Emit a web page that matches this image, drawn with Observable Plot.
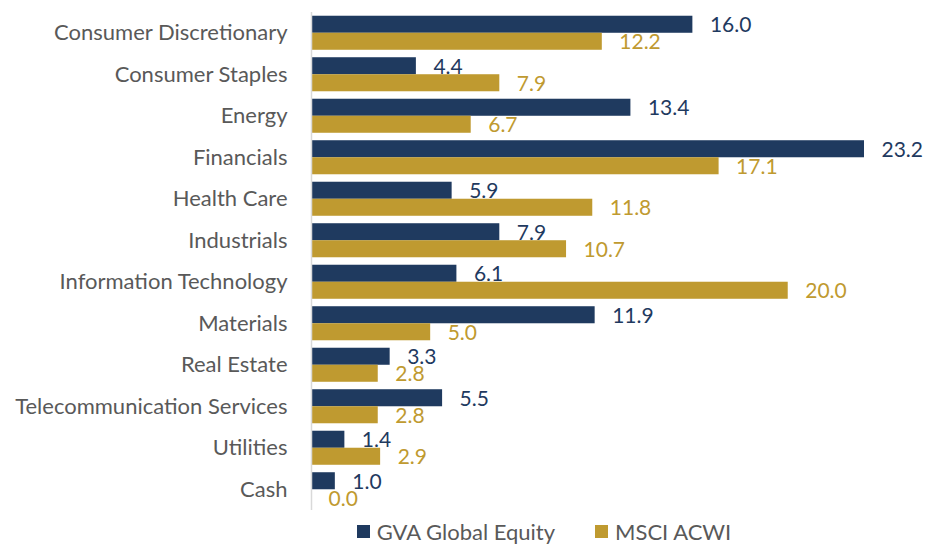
<!DOCTYPE html>
<html>
<head>
<meta charset="utf-8">
<script src="https://cdn.jsdelivr.net/npm/d3@7"></script>
<script src="https://cdn.jsdelivr.net/npm/@observablehq/plot@0.6"></script>
<style>
  html, body { margin: 0; padding: 0; background: #fff; }
  #chart { width: 926px; }
  .legend { display: flex; justify-content: center; align-items: center; gap: 40px;
    padding-left: 162px; font-family: Lato, sans-serif; font-size: 22px; color: #595959;
    height: 39px; }
  .legend span.item { display: flex; align-items: center; gap: 7px; }
  .legend span.sw { width: 13px; height: 13px; display: inline-block; }
</style>
</head>
<body>
<div id="chart"></div>
<script>
const categories = ["Consumer Discretionary","Consumer Staples","Energy","Financials","Health Care","Industrials","Information Technology","Materials","Real Estate","Telecommunication Services","Utilities","Cash"];
const seriesNames = ["GVA Global Equity","MSCI ACWI"];
const gva  = [16.0, 4.4, 13.4, 23.2, 5.9, 7.9, 6.1, 11.9, 3.3, 5.5, 1.4, 1.0];
const msci = [12.2, 7.9, 6.7, 17.1, 11.8, 10.7, 20.0, 5.0, 2.8, 2.8, 2.9, 0.0];
const colors = ["#1f3a5f", "#bf9a30"];

const gvaRows = categories.map((c, i) => ({category: c, value: gva[i]}));
const msciRows = categories.map((c, i) => ({category: c, value: msci[i]}));

const fmt = d => d.value.toFixed(1);

const plot = Plot.plot({
  width: 926,
  height: 512,
  marginLeft: 311,
  marginRight: 62,
  marginTop: 12,
  marginBottom: 2,
  style: {fontFamily: "Lato, sans-serif", fontSize: "22px", color: "#595959", background: "#fff"},
  x: {domain: [0, 23.2], axis: null},
  y: {domain: categories, paddingInner: 0.18, paddingOuter: 0.09, round: false, tickSize: 0, tickPadding: 24, label: null},
  marks: [
    Plot.barX(gvaRows, {x: "value", y: "category", fill: colors[0], insetBottom: 17}),
    Plot.barX(msciRows, {x: "value", y: "category", fill: colors[1], insetTop: 17}),
    Plot.ruleX([0], {stroke: "#d9d9d9", strokeWidth: 1.5}),
    Plot.text(gvaRows, {x: "value", y: "category", text: fmt, dx: 17, dy: -7.5, textAnchor: "start", fill: colors[0], fontSize: 21}),
    Plot.text(msciRows, {x: "value", y: "category", text: fmt, dx: 17, dy: 9.5, textAnchor: "start", fill: colors[1], fontSize: 21})
  ]
});
document.getElementById("chart").appendChild(plot);

const legend = document.createElement("div");
legend.className = "legend";
seriesNames.forEach((name, i) => {
  const item = document.createElement("span");
  item.className = "item";
  const sw = document.createElement("span");
  sw.className = "sw";
  sw.style.background = colors[i];
  const label = document.createElement("span");
  label.textContent = name;
  item.appendChild(sw);
  item.appendChild(label);
  legend.appendChild(item);
});
document.getElementById("chart").appendChild(legend);
</script>
</body>
</html>
